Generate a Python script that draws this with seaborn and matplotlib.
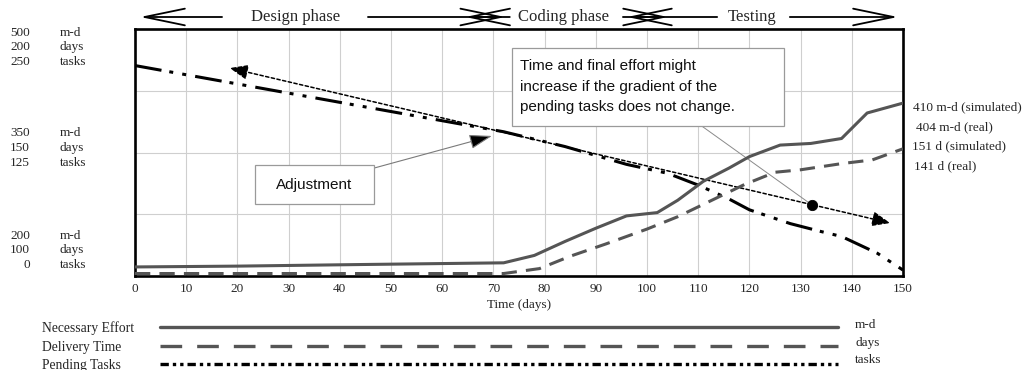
import matplotlib
matplotlib.use("Agg")
import matplotlib.pyplot as plt
from matplotlib.lines import Line2D
from matplotlib.patches import Rectangle
import seaborn as sns

# ---------------- data ----------------
effort_days = [0, 20, 45, 72, 78, 84, 90, 96, 102, 106, 111, 116, 120, 126, 132, 138, 143, 150]
effort_md = [211, 212, 214, 216, 225, 242, 258, 273, 277, 292, 315, 331, 345, 359, 361, 367, 398, 410]

delivery_days = [0, 72, 79, 85, 92, 100, 106, 113, 119, 125, 130, 138, 144, 150]
delivery_time = [101, 101, 103, 108, 113, 119, 124, 131, 137, 142, 143, 145.5, 147, 151.5]

pending_days = [0, 72, 84, 96, 104, 110, 116, 120, 128, 134, 138, 145, 150]
pending_tasks = [213, 146, 131, 113, 104, 92, 78, 67, 53, 45, 40, 23, 6]

trend_days = [18.5, 147.5]
trend_tasks = [210.5, 53.6]
marker_day = [132.2]
marker_tasks = [72]

x_ticks = list(range(0, 151, 10))

effort_scale = ["500", "350", "200"]
days_scale = ["200", "150", "100"]
tasks_scale = ["250", "125", "0"]

phase_names = ["Design phase", "Coding phase", "Testing"]
phase_text_x = [31.4, 83.6, 120.5]
phase_left = [(17.0, 1.0), (73.2, 64.5), (113.7, 96.1)]
phase_right = [(45.5, 72.3), (95.3, 104.1), (127.9, 149.0)]

final_labels = ["410 m-d (simulated)", "404 m-d (real)", "151 d (simulated)", "141 d (real)"]
legend_names = ["Necessary Effort", "Delivery Time", "Pending Tasks"]
legend_units = ["m-d", "days", "tasks"]

# ---------------- style ----------------
sns.set_style("white")
SERIF = ["Liberation Serif", "DejaVu Serif"]
SANS = ["Liberation Sans", "DejaVu Sans"]
plt.rcParams["font.family"] = SERIF

W, H = 1029, 370
fig = plt.figure(figsize=(W / 100, H / 100), dpi=100)
L, R, T, B = 135, 903, 29, 276
ax = fig.add_axes([L / W, 1 - B / H, (R - L) / W, (B - T) / H])
ax_e = ax.twinx()
ax_d = ax.twinx()

def fx(px):
    return px / W

def fy(py):
    return 1 - py / H

GREY = "#555555"
effort_style = "-"
delivery_style = (0, (5.0, 3.0))
pending_style = (0, (8.8, 2.6, 1.3, 3.0, 1.3, 3.0))

sns.lineplot(x=pending_days, y=pending_tasks, ax=ax, color="black", linewidth=2.2,
             linestyle=pending_style, dash_capstyle="butt", zorder=3)
sns.lineplot(x=effort_days, y=effort_md, ax=ax_e, color=GREY, linewidth=2.2,
             linestyle=effort_style, zorder=3)
sns.lineplot(x=delivery_days, y=delivery_time, ax=ax_d, color=GREY, linewidth=2.2,
             linestyle=delivery_style, dash_capstyle="butt", zorder=3)

ax.set_xlim(0, 150)
ax.set_ylim(0, 250)
ax_e.set_ylim(200, 500)
ax_d.set_ylim(100, 200)

for a in (ax_e, ax_d):
    a.set_yticks([])
    a.set_ylabel("")
    for s in a.spines.values():
        s.set_visible(False)

ax.set_xticks(x_ticks)
ax.set_xticklabels([str(t) for t in x_ticks], fontsize=9.5, family=SERIF)
ax.set_yticks([0, 62.5, 125, 187.5, 250])
ax.set_yticklabels([])
ax.tick_params(axis="both", length=0, pad=5)
ax.grid(True, color="#cfcfcf", linewidth=0.8)
ax.set_xlabel("Time (days)", fontsize=9.5, family=SERIF, labelpad=3)
ax.set_ylabel("")
for s in ax.spines.values():
    s.set_visible(True)
    s.set_color("black")
    s.set_linewidth(1.9)

# trend (dotted double arrow) and marker
ax.annotate("", xy=(trend_days[1], trend_tasks[1]), xytext=(trend_days[0], trend_tasks[0]),
            xycoords="data", textcoords="data",
            arrowprops=dict(arrowstyle="<|-|>,head_length=1.1,head_width=0.45", mutation_scale=10,
                            color="black", lw=1.1, linestyle=(0, (2.2, 1.6)),
                            shrinkA=0, shrinkB=0), zorder=4)
sns.scatterplot(x=marker_day, y=marker_tasks, ax=ax, color="black", s=55, zorder=5, edgecolor="black")

# annotation boxes
xt = ax.get_xaxis_transform()
ax.add_patch(Rectangle((0.4905, 0.607), 0.3545, 0.317, transform=ax.transAxes,
                       facecolor="white", edgecolor="#9a9a9a", lw=0.9, zorder=6))
ann_lines = ["Time and final effort might", "increase if the gradient of the",
             "pending tasks does not change."]
for txt, yy in zip(ann_lines, [0.850, 0.765, 0.684]):
    ax.text(0.501, yy, txt, transform=ax.transAxes, fontsize=11, family=SANS,
            va="center", ha="left", zorder=7, color="#111111")
# line from box to marker
ax.annotate("", xy=(marker_day[0], marker_tasks[0]), xytext=(110.7, 0.607 * 250),
            xycoords="data", textcoords="data",
            arrowprops=dict(arrowstyle="-", color="#8a8a8a", lw=0.7, shrinkA=0, shrinkB=3), zorder=4)

ax.add_patch(Rectangle((0.156, 0.291), 0.155, 0.158, transform=ax.transAxes,
                       facecolor="white", edgecolor="#9a9a9a", lw=0.9, zorder=6))
ax.text(0.2337, 0.368, "Adjustment", transform=ax.transAxes, fontsize=11, family=SANS,
        ha="center", va="center", zorder=7, color="#111111")
ax.annotate("", xy=(69.7, 0.567 * 250), xytext=(46.7, 0.437 * 250),
            xycoords="data", textcoords="data",
            arrowprops=dict(arrowstyle="-|>,head_length=1.4,head_width=0.45", mutation_scale=10,
                            ec="#7a7a7a", fc="black", lw=0.8, shrinkA=0, shrinkB=0), zorder=5)

# phase arrows on top
py = (B - 17) / (B - T)
for name, tx, lft, rgt in zip(phase_names, phase_text_x, phase_left, phase_right):
    ax.text(tx, py, name, transform=xt, fontsize=12, family=SERIF, ha="center", va="center",
            clip_on=False)
    for (a0, a1) in (lft, rgt):
        ax.annotate("", xy=(a1, py), xytext=(a0, py), xycoords=xt, textcoords=xt,
                    arrowprops=dict(arrowstyle="->,head_length=2.9,head_width=0.6", mutation_scale=10,
                                    color="black", lw=1.3, shrinkA=0, shrinkB=0),
                    annotation_clip=False)

# left scale labels
group_rows = [(33, 47, 62), (133, 148, 163), (236, 250, 265)]
for i, rows in enumerate(group_rows):
    for val, unit, yy in zip((effort_scale[i], days_scale[i], tasks_scale[i]),
                             legend_units, rows):
        fig.text(fx(30), fy(yy), val, fontsize=9.5, ha="right", va="center", family=SERIF)
        fig.text(fx(60), fy(yy), unit, fontsize=9.5, ha="left", va="center", family=SERIF)

# right final labels
for txt, xx, yy in zip(final_labels, [913, 916, 912, 914], [107, 127, 146, 166]):
    fig.text(fx(xx), fy(yy), txt, fontsize=9.5, ha="left", va="center", family=SERIF)

# bottom legend
legend_styles = [(GREY, effort_style), (GREY, (0, (6.5, 4.5))), ("black", (0, (2.5, 1.2, 1.0, 1.2, 1.0, 1.2)))]
for name, unit, (col, ls), ly, uy in zip(legend_names, legend_units, legend_styles,
                                          [327, 346, 364], [325, 343, 360]):
    fig.text(fx(42), fy(ly + 1), name, fontsize=9.8, ha="left", va="center", family=SERIF)
    fig.add_artist(Line2D([fx(160), fx(838)], [fy(ly), fy(ly)], transform=fig.transFigure,
                          color=col, lw=2.4, linestyle=ls, dash_capstyle="butt"))
    fig.text(fx(855), fy(uy), unit, fontsize=9.5, ha="left", va="center", family=SERIF)

fig.savefig("out.png", dpi=100)
